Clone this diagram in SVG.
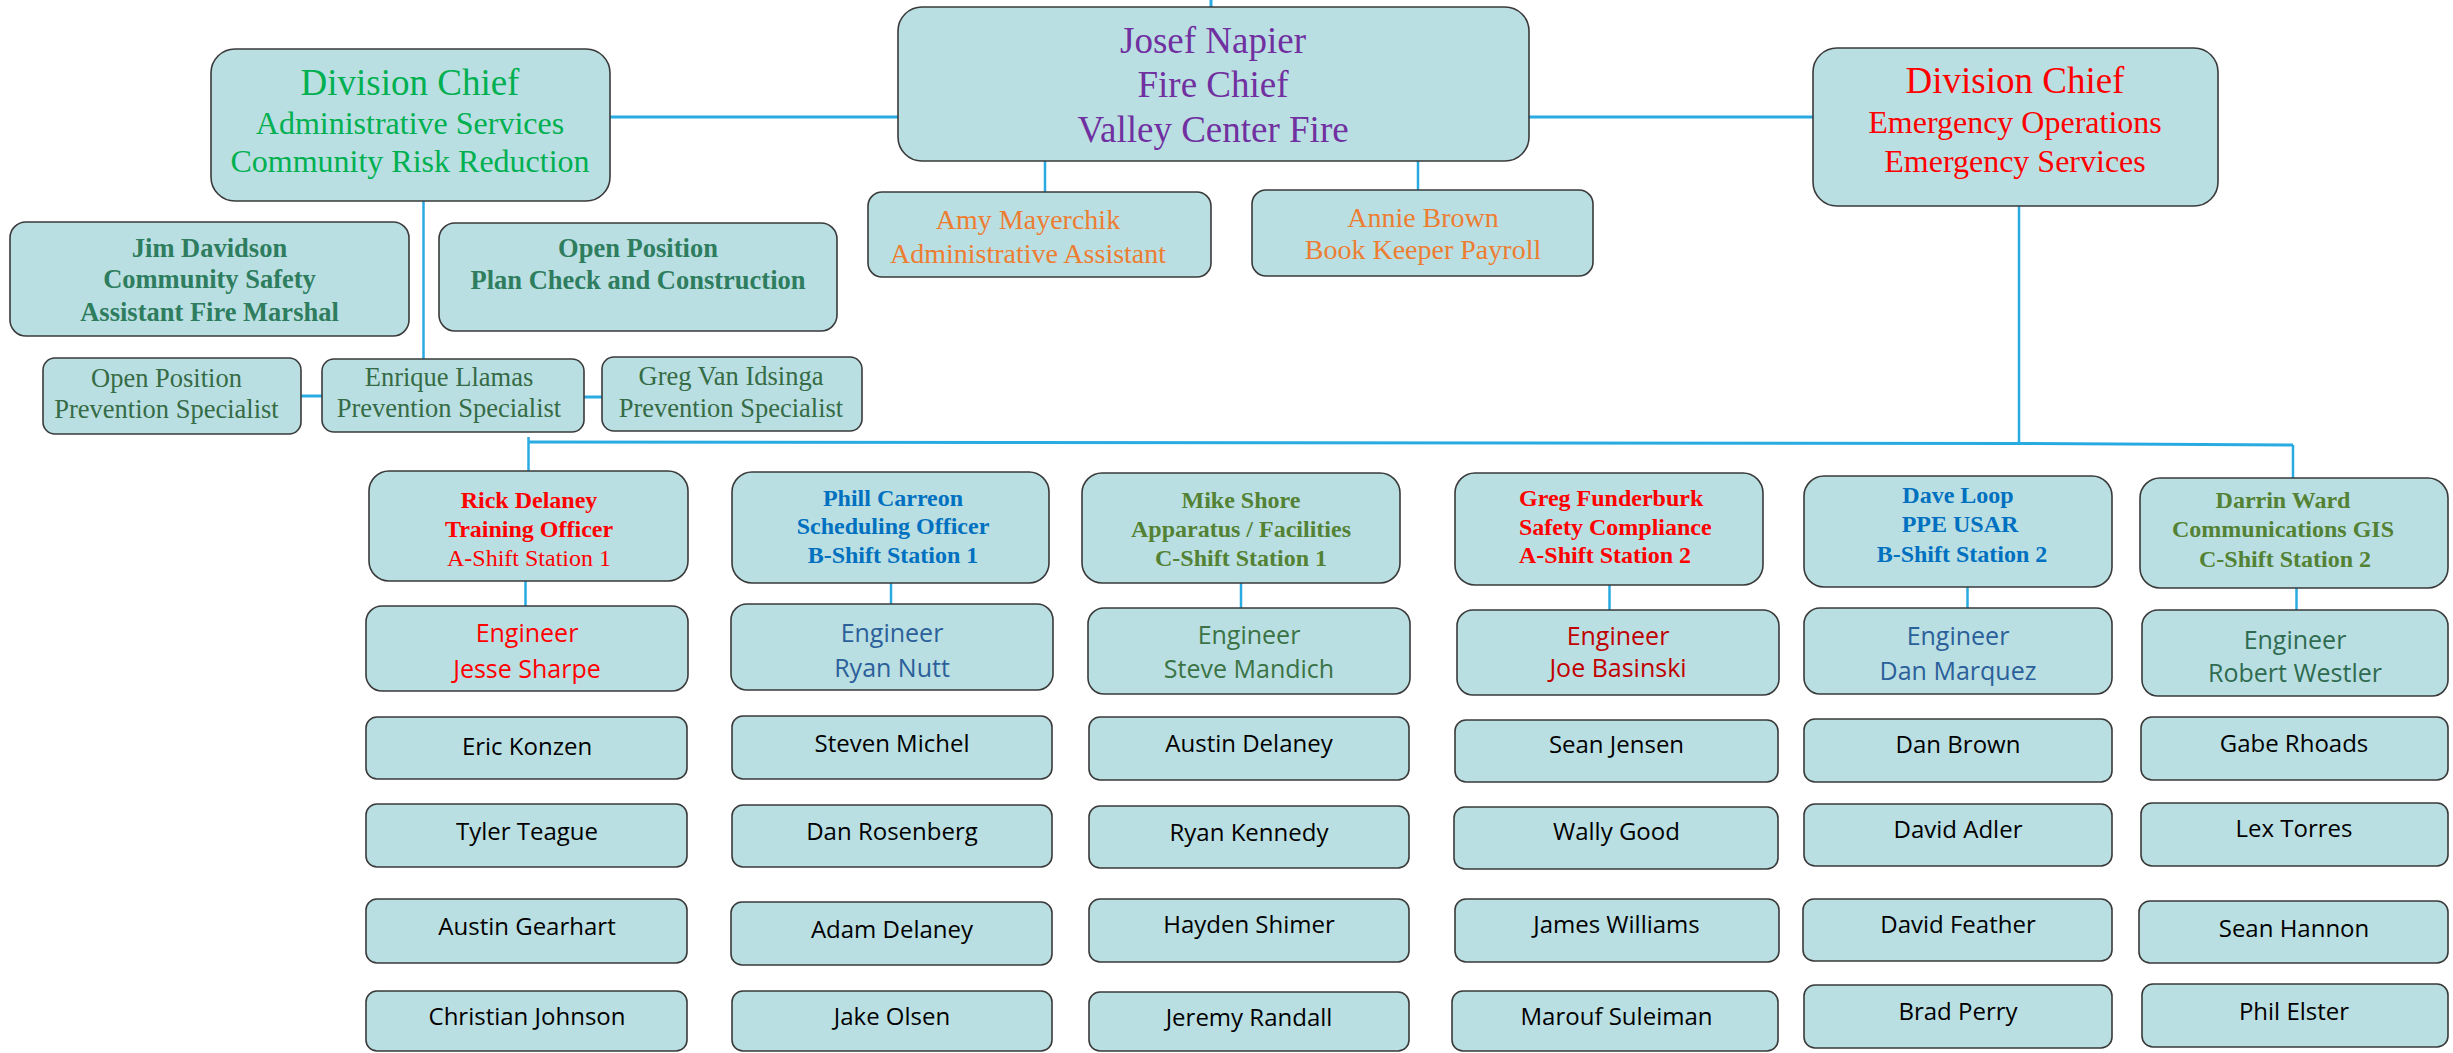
<svg xmlns="http://www.w3.org/2000/svg" width="2453" height="1053" viewBox="0 0 2453 1053">
<style>
.box{fill:#badfe2;stroke:#3a3a3a;stroke-width:1.6}
.conn line,.conn polyline{stroke:#29abe2;stroke-width:3;fill:none}
.conn .thin{stroke-width:2.5}
text{text-anchor:middle}
.sf{font-family:"Liberation Serif","Times New Roman",serif}
.sb{font-family:"Liberation Serif","Times New Roman",serif;font-weight:bold}
.ss{font-family:"Open Sans","Noto Sans",sans-serif}
.big{font-size:37px}
.sub{font-size:32px}
.n{font-size:24px;fill:#000}
.e{font-size:25px}
.t2{font-size:24px}
</style>
<rect width="2453" height="1053" fill="#fff"/>
<g class="conn" id="connectors">
<line x1="1211" y1="0" x2="1211" y2="8"/>
<line x1="609" y1="117" x2="898" y2="117"/>
<line x1="1529" y1="117" x2="1813" y2="117"/>
<line class="thin" x1="1045" y1="161" x2="1045" y2="192"/>
<line class="thin" x1="1418" y1="161" x2="1418" y2="192"/>
<line class="thin" x1="423.5" y1="201" x2="423.5" y2="359"/>
<line x1="301" y1="396" x2="322" y2="396"/>
<line x1="584" y1="397" x2="602" y2="397"/>
<line class="thin" x1="2019" y1="206" x2="2019" y2="444"/>
<polyline points="528,442 2019,443.5 2293,445"/>
<line class="thin" x1="528.5" y1="437" x2="528.5" y2="471"/>
<line class="thin" x1="2293" y1="445" x2="2293" y2="478"/>
<line class="thin" x1="525.5" y1="579" x2="525.5" y2="606"/>
<line class="thin" x1="891" y1="576" x2="891" y2="604"/>
<line class="thin" x1="1241" y1="578" x2="1241" y2="608"/>
<line class="thin" x1="1609.5" y1="583" x2="1609.5" y2="610"/>
<line class="thin" x1="1967.5" y1="578" x2="1967.5" y2="608"/>
<line class="thin" x1="2296.5" y1="580" x2="2296.5" y2="610"/>
</g>

<g id="fire-chief">
<rect class="box" x="898" y="7" width="631" height="154" rx="24"/>
<g class="sf big" fill="#7030a0">
<text x="1213" y="53">Josef Napier</text>
<text x="1213" y="97">Fire Chief</text>
<text x="1213" y="142">Valley Center Fire</text>
</g>
</g>

<g id="dc-admin">
<rect class="box" x="211" y="49" width="399" height="152" rx="24"/>
<g class="sf" fill="#00b050">
<text class="big" x="410" y="95">Division Chief</text>
<text class="sub" x="410" y="134">Administrative Services</text>
<text class="sub" x="410" y="172">Community Risk Reduction</text>
</g>
</g>

<g id="dc-ops">
<rect class="box" x="1813" y="48" width="405" height="158" rx="24"/>
<g class="sf" fill="#ff0000">
<text class="big" x="2015" y="93">Division Chief</text>
<text class="sub" x="2015" y="133">Emergency Operations</text>
<text class="sub" x="2015" y="172">Emergency Services</text>
</g>
</g>

<g id="amy">
<rect class="box" x="868" y="192" width="343" height="85" rx="14"/>
<g class="sf" fill="#ed7d31" font-size="28">
<text x="1028" y="229">Amy Mayerchik</text>
<text x="1028" y="263">Administrative Assistant</text>
</g>
</g>

<g id="annie">
<rect class="box" x="1252" y="190" width="341" height="86" rx="14"/>
<g class="sf" fill="#ed7d31" font-size="28">
<text x="1423" y="227">Annie Brown</text>
<text x="1423" y="259">Book Keeper Payroll</text>
</g>
</g>

<g id="jim">
<rect class="box" x="10" y="222" width="399" height="114" rx="16"/>
<g class="sb" fill="#2e7d5e" font-size="26.5">
<text x="209.5" y="257">Jim Davidson</text>
<text x="209.5" y="288">Community Safety</text>
<text x="209.5" y="321">Assistant Fire Marshal</text>
</g>
</g>

<g id="plan-check">
<rect class="box" x="439" y="223" width="398" height="108" rx="16"/>
<g class="sb" fill="#2e7d5e" font-size="26.5">
<text x="638" y="257">Open Position</text>
<text x="638" y="289">Plan Check and Construction</text>
</g>
</g>

<g id="prev-open">
<rect class="box" x="43" y="358" width="258" height="76" rx="12"/>
<g class="sf" fill="#356b45" font-size="26.5">
<text x="166.5" y="387">Open Position</text>
<text x="166.5" y="418">Prevention Specialist</text>
</g>
</g>

<g id="prev-enrique">
<rect class="box" x="322" y="359" width="262" height="73" rx="12"/>
<g class="sf" fill="#356b45" font-size="26.5">
<text x="449" y="386">Enrique Llamas</text>
<text x="449" y="417">Prevention Specialist</text>
</g>
</g>

<g id="prev-greg">
<rect class="box" x="602" y="357" width="260" height="74" rx="12"/>
<g class="sf" fill="#356b45" font-size="26.5">
<text x="731" y="385">Greg Van Idsinga</text>
<text x="731" y="417">Prevention Specialist</text>
</g>
</g>

<g id="rick">
<rect class="box" x="369" y="471" width="319" height="110" rx="20"/>
<g class="t2" fill="#ff0000">
<text class="sb" x="529" y="508">Rick Delaney</text>
<text class="sb" x="529" y="537">Training Officer</text>
<text class="sf" x="529" y="566">A-Shift Station 1</text>
</g>
</g>

<g id="phill">
<rect class="box" x="732" y="472" width="317" height="111" rx="20"/>
<g class="sb t2" fill="#0070c0">
<text x="893" y="506">Phill Carreon</text>
<text x="893" y="534">Scheduling Officer</text>
<text x="893" y="563">B-Shift Station 1</text>
</g>
</g>

<g id="mike">
<rect class="box" x="1082" y="473" width="318" height="110" rx="20"/>
<g class="sb t2" fill="#548235">
<text x="1241" y="508">Mike Shore</text>
<text x="1241" y="537">Apparatus / Facilities</text>
<text x="1241" y="566">C-Shift Station 1</text>
</g>
</g>

<g id="greg-f">
<rect class="box" x="1455" y="473" width="308" height="112" rx="20"/>
<g class="sb t2" fill="#ff0000" style="text-anchor:start">
<text x="1519" y="506" style="text-anchor:start">Greg Funderburk</text>
<text x="1519" y="535" style="text-anchor:start">Safety Compliance</text>
<text x="1519" y="563" style="text-anchor:start">A-Shift Station 2</text>
</g>
</g>

<g id="dave">
<rect class="box" x="1804" y="476" width="308" height="111" rx="20"/>
<g class="sb t2" fill="#0070c0">
<text x="1958" y="503">Dave Loop</text>
<text x="1960" y="532">PPE USAR</text>
<text x="1962" y="562">B-Shift Station 2</text>
</g>
</g>

<g id="darrin">
<rect class="box" x="2140" y="478" width="308" height="110" rx="20"/>
<g class="sb t2" fill="#548235">
<text x="2283" y="508">Darrin Ward</text>
<text x="2283" y="537">Communications GIS</text>
<text x="2285" y="567">C-Shift Station 2</text>
</g>
</g>

<g id="eng-jesse">
<rect class="box" x="366" y="606" width="322" height="85" rx="16"/>
<g class="ss e" fill="#ff0000">
<text x="527" y="642">Engineer</text>
<text x="527" y="678">Jesse Sharpe</text>
</g>
</g>
<g id="eng-ryan">
<rect class="box" x="731" y="604" width="322" height="86" rx="16"/>
<g class="ss e" fill="#2b609a">
<text x="892" y="642">Engineer</text>
<text x="892" y="677">Ryan Nutt</text>
</g>
</g>
<g id="eng-steve">
<rect class="box" x="1088" y="608" width="322" height="86" rx="16"/>
<g class="ss e" fill="#3b7345">
<text x="1249" y="644">Engineer</text>
<text x="1249" y="678">Steve Mandich</text>
</g>
</g>
<g id="eng-joe">
<rect class="box" x="1457" y="610" width="322" height="85" rx="16"/>
<g class="ss e" fill="#c00000">
<text x="1618" y="645">Engineer</text>
<text x="1618" y="677">Joe Basinski</text>
</g>
</g>
<g id="eng-dan">
<rect class="box" x="1804" y="608" width="308" height="86" rx="16"/>
<g class="ss e" fill="#2b609a">
<text x="1958" y="645">Engineer</text>
<text x="1958" y="680">Dan Marquez</text>
</g>
</g>
<g id="eng-robert">
<rect class="box" x="2142" y="610" width="306" height="86" rx="16"/>
<g class="ss e" fill="#2f6b50">
<text x="2295" y="649">Engineer</text>
<text x="2295" y="682">Robert Westler</text>
</g>
</g>

<g class="ss n">
<g id="n-eric"><rect class="box" x="366" y="717" width="321" height="62" rx="11"/><text x="527" y="755">Eric Konzen</text></g>
<g id="n-tyler"><rect class="box" x="366" y="804" width="321" height="63" rx="11"/><text x="527" y="840">Tyler Teague</text></g>
<g id="n-austin-g"><rect class="box" x="366" y="899" width="321" height="64" rx="11"/><text x="527" y="935">Austin Gearhart</text></g>
<g id="n-christian"><rect class="box" x="366" y="991" width="321" height="60" rx="11"/><text x="527" y="1025">Christian Johnson</text></g>

<g id="n-steven"><rect class="box" x="732" y="716" width="320" height="63" rx="11"/><text x="892" y="752">Steven Michel</text></g>
<g id="n-dan-r"><rect class="box" x="732" y="805" width="320" height="62" rx="11"/><text x="892" y="840">Dan Rosenberg</text></g>
<g id="n-adam"><rect class="box" x="731" y="902" width="321" height="63" rx="11"/><text x="892" y="938">Adam Delaney</text></g>
<g id="n-jake"><rect class="box" x="732" y="991" width="320" height="60" rx="11"/><text x="892" y="1025">Jake Olsen</text></g>

<g id="n-austin-d"><rect class="box" x="1089" y="717" width="320" height="63" rx="11"/><text x="1249" y="752">Austin Delaney</text></g>
<g id="n-ryan-k"><rect class="box" x="1089" y="806" width="320" height="62" rx="11"/><text x="1249" y="841">Ryan Kennedy</text></g>
<g id="n-hayden"><rect class="box" x="1089" y="899" width="320" height="63" rx="11"/><text x="1249" y="933">Hayden Shimer</text></g>
<g id="n-jeremy"><rect class="box" x="1089" y="992" width="320" height="59" rx="11"/><text x="1249" y="1026">Jeremy Randall</text></g>

<g id="n-sean-j"><rect class="box" x="1455" y="720" width="323" height="62" rx="11"/><text x="1616.5" y="753">Sean Jensen</text></g>
<g id="n-wally"><rect class="box" x="1454" y="807" width="324" height="62" rx="11"/><text x="1616.5" y="840">Wally Good</text></g>
<g id="n-james"><rect class="box" x="1455" y="899" width="324" height="63" rx="11"/><text x="1616.5" y="933">James Williams</text></g>
<g id="n-marouf"><rect class="box" x="1452" y="991" width="326" height="60" rx="11"/><text x="1616.5" y="1025">Marouf Suleiman</text></g>

<g id="n-dan-b"><rect class="box" x="1804" y="719" width="308" height="63" rx="11"/><text x="1958" y="753">Dan Brown</text></g>
<g id="n-david-a"><rect class="box" x="1804" y="804" width="308" height="62" rx="11"/><text x="1958" y="838">David Adler</text></g>
<g id="n-david-f"><rect class="box" x="1803" y="899" width="309" height="62" rx="11"/><text x="1958" y="933">David Feather</text></g>
<g id="n-brad"><rect class="box" x="1804" y="985" width="308" height="63" rx="11"/><text x="1958" y="1020">Brad Perry</text></g>

<g id="n-gabe"><rect class="box" x="2141" y="717" width="307" height="63" rx="11"/><text x="2294" y="752">Gabe Rhoads</text></g>
<g id="n-lex"><rect class="box" x="2141" y="803" width="307" height="63" rx="11"/><text x="2294" y="837">Lex Torres</text></g>
<g id="n-sean-h"><rect class="box" x="2139" y="901" width="309" height="62" rx="11"/><text x="2294" y="937">Sean Hannon</text></g>
<g id="n-phil"><rect class="box" x="2142" y="984" width="306" height="63" rx="11"/><text x="2294" y="1020">Phil Elster</text></g>
</g>
</svg>
